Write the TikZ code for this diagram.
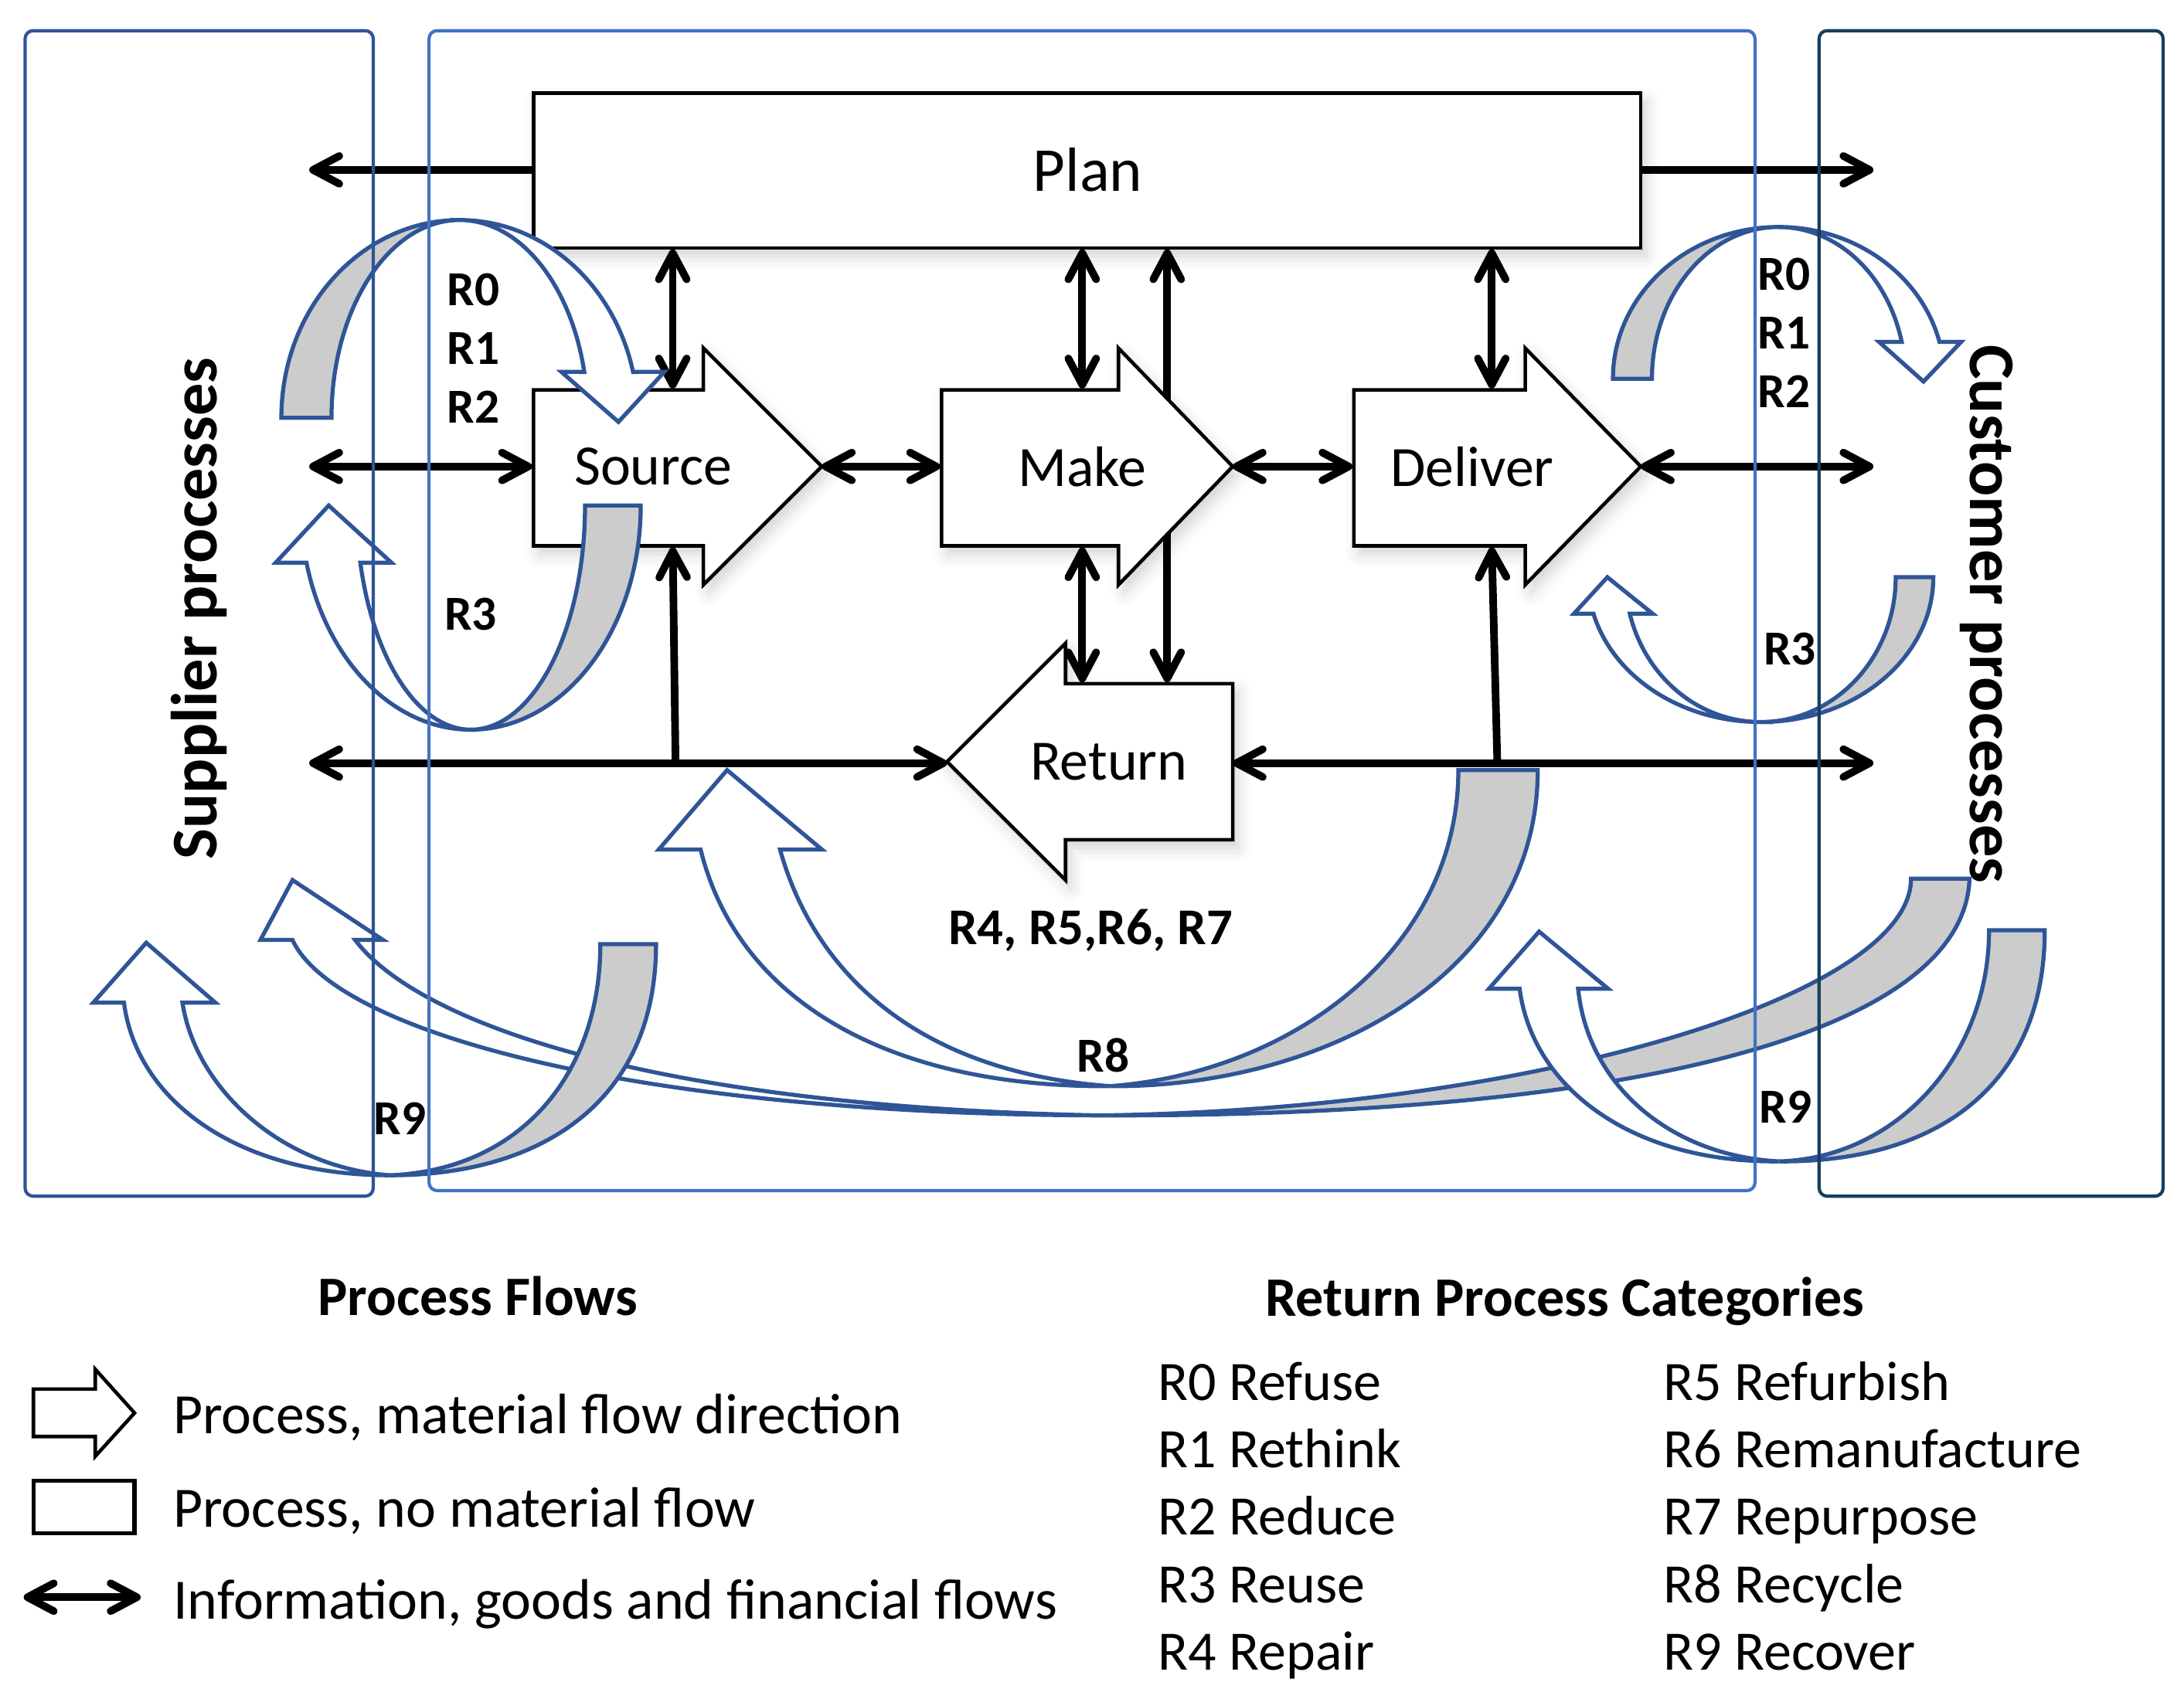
\documentclass[tikz,border=0pt]{standalone}
\usepackage{fontspec}
\setmainfont{Carlito}
\usetikzlibrary{arrows.meta,shadows.blur}
\definecolor{rblue}{RGB}{47,85,151}
\definecolor{rgray}{RGB}{204,204,204}
\definecolor{supblue}{RGB}{47,85,151}
\definecolor{midblue}{RGB}{68,114,196}
\definecolor{cusblue}{RGB}{22,64,94}

\begin{document}
\begin{tikzpicture}
        [x=0.01802cm,y=-0.01802cm,
         proc/.style={draw,line width=1.3pt,fill=white,
           blur shadow={shadow xshift=2pt,shadow yshift=-3pt,shadow blur radius=5pt,shadow opacity=18}},
         band/.style={draw=rblue,line width=1.5pt,fill=rgray},
         front/.style={draw=rblue,line width=1.5pt,fill=white},
         flow/.style={line width=2.8pt,{Straight Barb[length=3.4mm,width=3.6mm,round]}-{Straight Barb[length=3.4mm,width=3.6mm,round]}},
         oneway/.style={line width=2.8pt,-{Straight Barb[length=3.4mm,width=3.6mm,round]}},
         lbl/.style={font=\fontsize{21}{25}\selectfont},
         rlbl/.style={font=\bfseries\fontsize{18}{22}\selectfont},
         side/.style={font=\bfseries\fontsize{24}{28}\selectfont},
         leg/.style={anchor=base west,inner sep=0pt,font=\fontsize{20.5}{24}\selectfont},
         ttl/.style={anchor=base,inner sep=0pt,font=\bfseries\fontsize{20.5}{24}\selectfont},
         box/.style={line width=1.2pt,rounded corners=3pt}]
        \useasboundingbox (0,0) rectangle (1568,1220);

        \coordinate (plan-w) at (383,122);
        \coordinate (plan-e) at (1178,122);
        \coordinate (sup-top) at (222,122);
        \coordinate (cus-top) at (1345,122);
        \coordinate (plan-s1) at (483,179);
        \coordinate (plan-s2) at (777,179);
        \coordinate (plan-s3) at (838,179);
        \coordinate (plan-s4) at (1071,179);
        \coordinate (src-n) at (483,279);
        \coordinate (mk-n) at (777,279);
        \coordinate (dlv-n) at (1071,279);
        \coordinate (sup-mid) at (222,335);
        \coordinate (src-w) at (382,335);
        \coordinate (src-tip) at (590,335);
        \coordinate (mk-w) at (675,335);
        \coordinate (mk-tip) at (885,335);
        \coordinate (dlv-w) at (971,335);
        \coordinate (dlv-tip) at (1178,335);
        \coordinate (cus-mid) at (1345,335);
        \coordinate (src-s) at (483,393);
        \coordinate (mk-s) at (777,393);
        \coordinate (dlv-s) at (1071,393);
        \coordinate (ret-n1) at (838,490);
        \coordinate (ret-n2) at (777,490);
        \coordinate (sup-bot) at (222,548);
        \coordinate (ret-tip) at (680,548);
        \coordinate (ret-e) at (885,548);
        \coordinate (cus-bot) at (1345,548);
        \coordinate (j1) at (485,548);
        \coordinate (j2) at (1075,548);

        \foreach \from/\to in {sup-mid/src-w, src-tip/mk-w, mk-tip/dlv-w, dlv-tip/cus-mid,
            plan-s1/src-n, plan-s2/mk-n, plan-s3/ret-n1, mk-s/ret-n2, plan-s4/dlv-n,
            sup-bot/ret-tip, ret-e/cus-bot}
            \draw[flow] (\from) -- (\to);
        \foreach \from/\to in {plan-w/sup-top, plan-e/cus-top, j1/src-s, j2/dlv-s}
            \draw[oneway] (\from) -- (\to);

        \draw[proc] (383,67) rectangle (1178,178);
        \draw[proc] (383,280) -- (505,280) -- (505,250) -- (590,335) -- (505,420) -- (505,392) -- (383,392) -- cycle;
        \draw[proc] (676,280) -- (803,280) -- (803,250) -- (885,335) -- (803,420) -- (803,392) -- (676,392) -- cycle;
        \draw[proc] (972,280) -- (1095,280) -- (1095,250) -- (1178,335) -- (1095,420) -- (1095,392) -- (972,392) -- cycle;
        \draw[proc] (885,491) -- (765,491) -- (765,462) -- (680,547) -- (765,632) -- (765,603) -- (885,603) -- cycle;
        \node[lbl,font=\fontsize{23}{27}\selectfont] (plan) at (781,122) {Plan};
        \node[lbl] (src) at (469,335) {Source};
        \node[lbl] (mk) at (777,335) {Make};
        \node[lbl] (dlv) at (1057,335) {Deliver};
        \node[lbl] (ret) at (796,547) {Return};

        \draw[band] (202,300) arc[start angle=180,end angle=270,x radius=128,y radius=142]
            arc[start angle=270,end angle=180,x radius=92,y radius=142] -- cycle;
        \draw[front] (330,158) arc[start angle=270,end angle=346.6,x radius=128,y radius=142]
            -- (477,267) -- (444,303) -- (403,267) -- (419.5,267.1)
            arc[start angle=346.6,end angle=270,x radius=92,y radius=142] -- cycle;
        \draw[band] (460,363) arc[start angle=0,end angle=90,x radius=122,y radius=161]
            arc[start angle=90,end angle=0,x radius=82,y radius=161] -- cycle;
        \draw[front] (338,524) arc[start angle=90,end angle=165.2,x radius=122,y radius=161]
            -- (198,404) -- (236,363) -- (281,404) -- (258.7,404.1)
            arc[start angle=165.2,end angle=90,x radius=82,y radius=161] -- cycle;
        \draw[band] (1158,272) arc[start angle=180,end angle=270,x radius=119,y radius=109]
            arc[start angle=270,end angle=180,x radius=91,y radius=109] -- cycle;
        \draw[front] (1277,163) arc[start angle=270,end angle=345.9,x radius=119,y radius=109]
            -- (1408,245.5) -- (1381,274) -- (1349,245.5) -- (1365.3,245.5)
            arc[start angle=345.9,end angle=270,x radius=91,y radius=109] -- cycle;
        \draw[band] (1388,414.5) arc[start angle=0,end angle=90,x radius=124,y radius=104]
            arc[start angle=90,end angle=0,x radius=97,y radius=104] -- cycle;
        \draw[front] (1264,518.5) arc[start angle=90,end angle=165.4,x radius=124,y radius=104]
            -- (1130,440.7) -- (1154,414.5) -- (1186.5,440.7) -- (1170.1,440.7)
            arc[start angle=165.4,end angle=90,x radius=97,y radius=104] -- cycle;

        \draw[front] (790,801) .. controls (450,800) and (240,740) .. (210,675) -- (187,675) -- (210,632)
            -- (275,675) -- (255,675) .. controls (300,735) and (470,795) .. (790,801) -- cycle;
        \draw[band] (790,801) .. controls (1180,802) and (1410,740) .. (1414,631) -- (1372,631)
            .. controls (1372,715) and (1100,797) .. (790,801) -- cycle;
        \draw[band] (797,780) .. controls (950,781) and (1104,700) .. (1104,553) -- (1047,553)
            .. controls (1047,680) and (930,770) .. (797,780) -- cycle;
        \draw[front] (797,780) .. controls (640,781) and (530,720) .. (503,610) -- (473,610) -- (522,553)
            -- (590,610) -- (560,610) .. controls (585,700) and (660,770) .. (797,780) -- cycle;
        \draw[band] (471,678) .. controls (471,790) and (390,844) .. (280,844)
            .. controls (375,840) and (431,770) .. (431,678) -- cycle;
        \draw[front] (280,844) .. controls (170,844) and (98,790) .. (89,720) -- (67,720) -- (105,677)
            -- (154.6,720) -- (131,720) .. controls (140,780) and (200,838) .. (280,844) -- cycle;
        \draw[band] (1468,668) .. controls (1468,780) and (1390,835) .. (1277,834)
            .. controls (1360,832) and (1428,760) .. (1428,668) -- cycle;
        \draw[front] (1277,834) .. controls (1170,835) and (1100,780) .. (1091,710) -- (1069,710) -- (1105,669)
            -- (1154.5,710) -- (1133,710) .. controls (1140,780) and (1200,830) .. (1277,834) -- cycle;

        \node[rlbl] (l-r0) at (340,208) {R0};
        \node[rlbl] (l-r1) at (340,250) {R1};
        \node[rlbl] (l-r2) at (340,292) {R2};
        \node[rlbl] (l-r3) at (338,441) {R3};
        \node[rlbl] (c-r0) at (1281,197) {R0};
        \node[rlbl] (c-r1) at (1281,239) {R1};
        \node[rlbl] (c-r2) at (1281,281) {R2};
        \node[rlbl] (c-r3) at (1285,466) {R3};
        \node[rlbl,font=\bfseries\fontsize{19}{23}\selectfont] (m-r47) at (783,668) {R4, R5,R6, R7};
        \node[rlbl] (m-r8) at (792,758) {R8};
        \node[rlbl] (l-r9) at (287,803) {R9};
        \node[rlbl] (c-r9) at (1282,795) {R9};
        \node[side,rotate=90] (suplbl) at (143,437) {Supplier processes};
        \node[side,rotate=-90] (cuslbl) at (1426,441) {Customer processes};

        \draw[box,draw=supblue] (18,22) rectangle (268,859);
        \draw[box,draw=midblue] (308,22) rectangle (1260,855);
        \draw[box,draw=cusblue] (1306,22) rectangle (1553,859);

        \node[ttl] (flows) at (343,944.7) {Process Flows};
        \node[ttl] (cats) at (1123.5,945) {Return Process Categories};
        \draw[line width=1.3pt] (24,997.5) -- (68.4,997.5) -- (68.4,983.3) -- (96.6,1014.7) -- (68.4,1045.8)
            -- (68.4,1031.6) -- (24,1031.6) -- cycle;
        \draw[line width=1.5pt] (24,1063.4) rectangle (96.6,1101);
        \coordinate (lg-a) at (17,1147);
        \coordinate (lg-b) at (101,1147);
        \draw[flow] (lg-a) -- (lg-b);
        \node[leg,font=\fontsize{21}{25}\selectfont] (lg1) at (124,1029.5) {Process, material flow direction};
        \node[leg,font=\fontsize{21}{25}\selectfont] (lg2) at (124,1096.7) {Process, no material flow};
        \node[leg,font=\fontsize{21}{25}\selectfont] (lg3) at (124,1162.4) {Information, goods and financial flows};
        \foreach \lab [count=\i from 0] in {R0 Refuse, R1 Rethink, R2 Reduce, R3 Reuse, R4 Repair}
            \node[leg] (cat\i) at (831,{1005.6+48.4*\i}) {\lab};
        \foreach \lab [count=\i from 5] in {R5 Refurbish, R6 Remanufacture, R7 Repurpose, R8 Recycle, R9 Recover}
            \node[leg] (cat\i) at (1194,{1005.6+48.4*(\i-5)}) {\lab};

      \end{tikzpicture}
\end{document}
